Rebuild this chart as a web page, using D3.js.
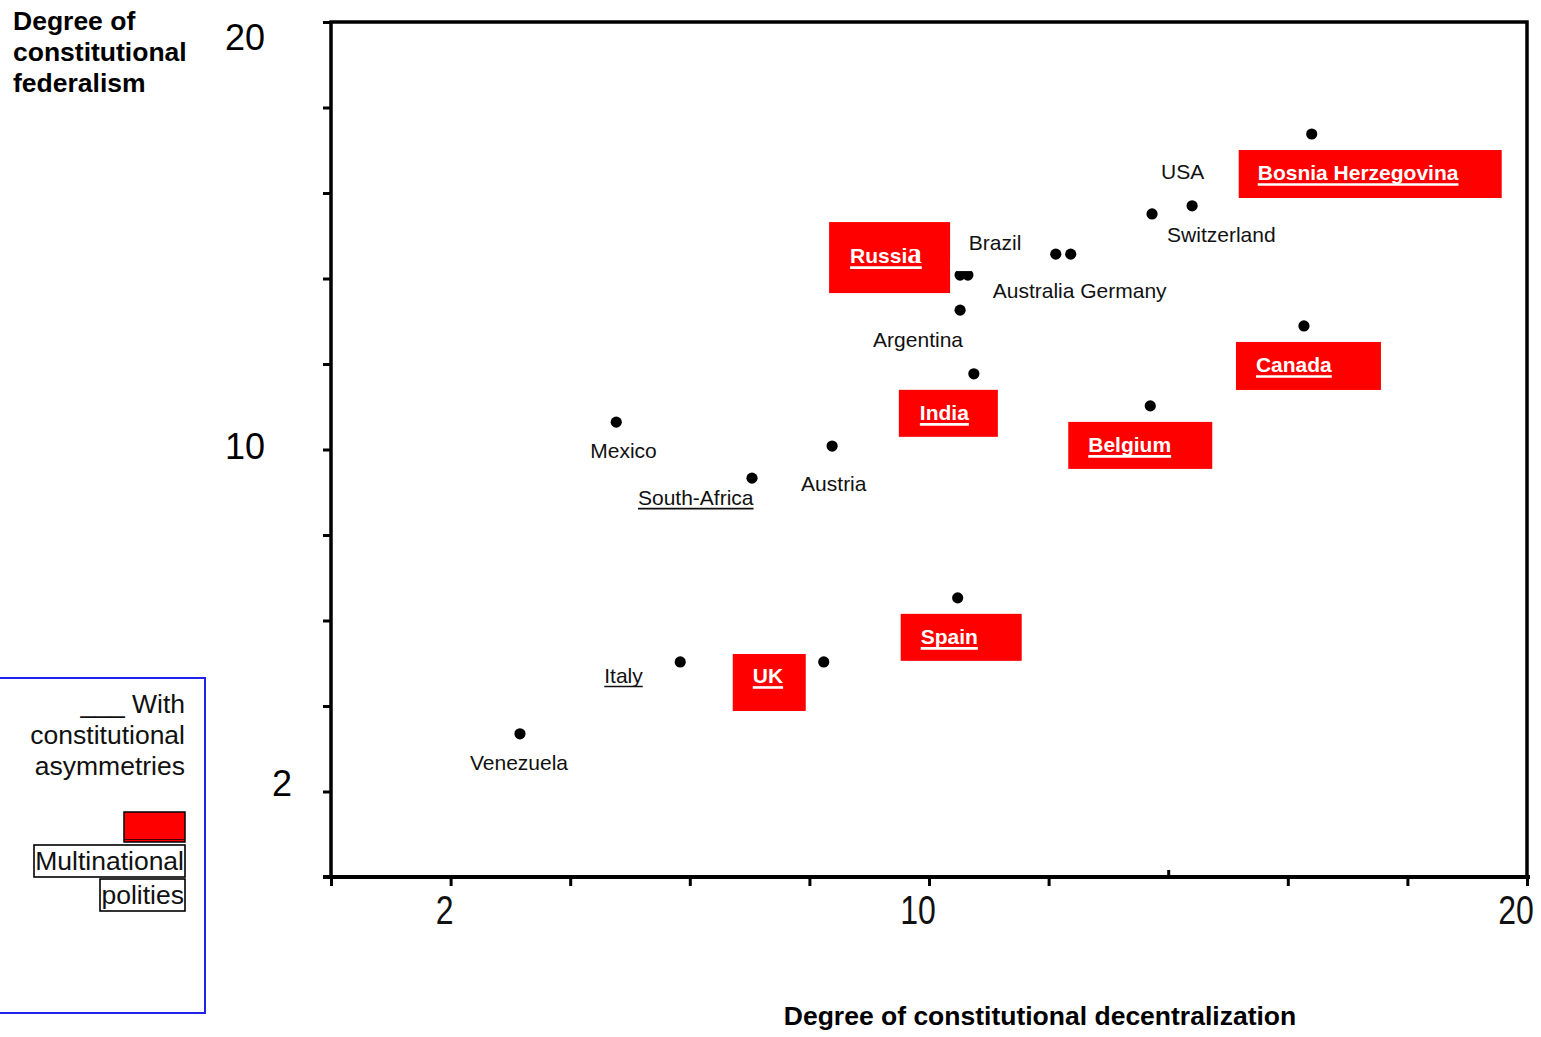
<!DOCTYPE html>
<html>
<head>
<meta charset="utf-8">
<script src="https://cdn.jsdelivr.net/npm/d3@7"></script>
<style>
  html, body { margin: 0; padding: 0; background: #fff; }
  svg { display: block; font-family: "Liberation Sans", Arial, sans-serif; }
</style>
</head>
<body>
<svg id="chart" width="1541" height="1037"></svg>
<script>
// ---------- data ----------
const countries = ["Mexico", "South-Africa", "Austria", "Venezuela", "Italy", "UK", "Spain", "India",
  "Argentina", "Russia", "Brazil", "Australia", "Germany", "USA", "Switzerland",
  "Bosnia Herzegovina", "Canada", "Belgium"];
const decentralization = [4.77, 7.04, 8.38, 3.16, 5.84, 8.24, 10.48, 10.75,
  10.52, 10.52, 10.65, 12.12, 12.37, 13.73, 14.40, 16.40, 16.27, 13.70];
const federalism = [10.64, 9.33, 10.08, 3.35, 5.03, 5.03, 6.53, 11.77,
  13.26, 14.08, 14.08, 14.57, 14.57, 15.51, 15.70, 17.38, 12.89, 11.02];
const multinational = [false, false, false, false, false, true, true, true,
  false, true, false, false, false, false, false, true, true, true];
const underlined = [false, true, false, false, true, true, true, true,
  false, true, false, false, false, false, false, true, true, true];

const xTickValues = [0, 2, 4, 6, 8, 10, 12, 14, 16, 18, 20];
const yTickValues = [0, 2, 4, 6, 8, 10, 12, 14, 16, 18, 20];
const xTickLabels = [{ v: 2, t: "2" }, { v: 10, t: "10" }, { v: 20, t: "20" }];
const yTickLabels = [{ v: 20, t: "20" }, { v: 10, t: "10" }, { v: 2, t: "2" }];

const yTitle = ["Degree of", "constitutional", "federalism"];
const xTitle = "Degree of constitutional decentralization";
const legendText = ["___ With", "constitutional", "asymmetries"];
const legendBoxText = ["Multinational", "polities"];

// ---------- layout (offsets from each point, px) ----------
const labelLayout = {
  "Mexico": { dx: -26, dy: 36 },
  "South-Africa": { dx: -114, dy: 27 },
  "Austria": { dx: -31, dy: 45 },
  "Venezuela": { dx: -50, dy: 36 },
  "Italy": { dx: -76, dy: 21 },
  "Argentina": { dx: -87, dy: 37 },
  "Brazil": { dx: 1, dy: -25 },
  "Australia": { dx: -63, dy: 44 },
  "Germany": { dx: 9.5, dy: 44 },
  "USA": { dx: 9, dy: -35 },
  "Switzerland": { dx: -25, dy: 36 }
};
const boxLayout = {
  "Bosnia Herzegovina": { bx: -73, by: 16, bw: 263, bh: 48, tx: -54, ty: 46 },
  "Canada": { bx: -68, by: 16, bw: 145, bh: 48, tx: -48, ty: 46 },
  "Belgium": { bx: -82, by: 16, bw: 144, bh: 47, tx: -62, ty: 46 },
  "India": { bx: -75, by: 16, bw: 99, bh: 47, tx: -54, ty: 46 },
  "Spain": { bx: -57, by: 16, bw: 121, bh: 47, tx: -37, ty: 46 },
  "UK": { bx: -91, by: -8, bw: 73, bh: 57, tx: -71, ty: 21 },
  "Russia": { bx: -131, by: -53, bw: 121, bh: 71, tx: -110, ty: -12 }
};

// ---------- chart ----------
const svg = d3.select("#chart");
const x = d3.scaleLinear().domain([0, 20]).range([331, 1527]);
const y = d3.scaleLinear().domain([0, 20]).range([877, 22]);

const pts = countries.map((c, i) => ({
  name: c, x: decentralization[i], y: federalism[i], multi: multinational[i], ul: underlined[i]
}));

// frame
svg.append("rect")
  .attr("x", x(0)).attr("y", y(20))
  .attr("width", x(20) - x(0)).attr("height", y(0) - y(20))
  .attr("fill", "none").attr("stroke", "#000").attr("stroke-width", 3.5);

// y axis ticks
const yAxis = d3.axisLeft(y).tickValues(yTickValues).tickSize(8).tickSizeOuter(0).tickFormat("");
const gy = svg.append("g").attr("transform", `translate(${x(0)},0)`).call(yAxis);
gy.select(".domain").remove();
gy.selectAll(".tick line").attr("stroke", "#000").attr("stroke-width", 3);

// x axis ticks (one tick drawn upward)
const xAxis = d3.axisBottom(x).tickValues(xTickValues.filter(v => v !== 14)).tickSize(9).tickSizeOuter(0).tickFormat("");
const gx = svg.append("g").attr("transform", `translate(0,${y(0)})`).call(xAxis);
gx.select(".domain").remove();
gx.selectAll(".tick line").attr("stroke", "#000").attr("stroke-width", 3);
const xAxisUp = d3.axisTop(x).tickValues([14]).tickSize(7).tickSizeOuter(0).tickFormat("");
const gx2 = svg.append("g").attr("transform", `translate(0,${y(0)})`).call(xAxisUp);
gx2.select(".domain").remove();
gx2.selectAll(".tick line").attr("stroke", "#000").attr("stroke-width", 3);
// extended bottom line
svg.append("line").attr("x1", x(0) - 8).attr("x2", x(20) + 3)
  .attr("y1", y(0)).attr("y2", y(0)).attr("stroke", "#000").attr("stroke-width", 4);

// y tick labels
const yLabOff = { "20": { dx: -66, dy: 28 }, "10": { dx: -66, dy: 9 }, "2": { dx: -39, dy: 4 } };
svg.selectAll(".ylab").data(yTickLabels).join("text")
  .attr("class", "ylab")
  .attr("x", d => x(0) + yLabOff[d.t].dx)
  .attr("y", d => y(d.v) + yLabOff[d.t].dy)
  .attr("text-anchor", "end")
  .attr("font-size", 36).attr("fill", "#000")
  .text(d => d.t);

// x tick labels (condensed)
const xLabOff = { "2": -6, "10": -11, "20": -11 };
svg.selectAll(".xlab").data(xTickLabels).join("text")
  .attr("class", "xlab")
  .attr("transform", d => `translate(${x(d.v) + xLabOff[d.t]},924) scale(0.8,1)`)
  .attr("text-anchor", "middle")
  .attr("font-size", 40).attr("fill", "#111")
  .text(d => d.t);

// titles
svg.append("text").attr("x", 13).attr("font-size", 26.5).attr("font-weight", "bold")
  .selectAll("tspan").data(yTitle).join("tspan")
  .attr("x", 13).attr("y", (d, i) => 30 + i * 31).text(d => d);
svg.append("text").attr("x", 1040).attr("y", 1025).attr("text-anchor", "middle")
  .attr("font-size", 26.5).attr("font-weight", "bold").text(xTitle);

// red boxes
const multiPts = pts.filter(p => p.multi);
svg.selectAll(".box").data(multiPts).join("rect")
  .attr("class", "box")
  .attr("x", p => x(p.x) + boxLayout[p.name].bx)
  .attr("y", p => y(p.y) + boxLayout[p.name].by)
  .attr("width", p => boxLayout[p.name].bw)
  .attr("height", p => boxLayout[p.name].bh)
  .attr("fill", "#ff0000");

// points
svg.selectAll(".pt").data(pts).join("circle")
  .attr("class", "pt")
  .attr("cx", p => x(p.x)).attr("cy", p => y(p.y)).attr("r", 5.6)
  .attr("fill", "#000");

// white patch that clips the Russia / Brazil dots
const russia = pts.find(p => p.name === "Russia");
svg.append("rect")
  .attr("x", x(russia.x) - 10).attr("y", y(russia.y) - 16)
  .attr("width", 28).attr("height", 12).attr("fill", "#fff");

// plain labels
const plainPts = pts.filter(p => !p.multi);
plainPts.forEach(p => {
  const L = labelLayout[p.name];
  const t = svg.append("text")
    .attr("x", x(p.x) + L.dx).attr("y", y(p.y) + L.dy)
    .attr("font-size", 21).attr("fill", "#111").text(p.name);
  if (p.ul) {
    const w = t.node().getComputedTextLength();
    svg.append("line").attr("x1", x(p.x) + L.dx).attr("x2", x(p.x) + L.dx + w)
      .attr("y1", y(p.y) + L.dy + 3.5).attr("y2", y(p.y) + L.dy + 3.5)
      .attr("stroke", "#111").attr("stroke-width", 1.6);
  }
});

// box labels
multiPts.forEach(p => {
  const B = boxLayout[p.name];
  const tx = x(p.x) + B.tx, ty = y(p.y) + B.ty;
  const t = svg.append("text").attr("x", tx).attr("y", ty)
    .attr("font-size", 21).attr("font-weight", "bold").attr("fill", "#fff");
  if (p.name === "Russia") {
    t.append("tspan").text("Russi");
    t.append("tspan").attr("font-family", "'Liberation Serif', serif").attr("font-size", 29)
      .attr("font-weight", "bold").text("a");
  } else {
    t.text(p.name);
  }
  const w = t.node().getComputedTextLength();
  svg.append("line").attr("x1", tx).attr("x2", tx + w)
    .attr("y1", ty + 4.5).attr("y2", ty + 4.5)
    .attr("stroke", "#fff").attr("stroke-width", 2.6);
});

// legend
svg.append("rect").attr("x", -1).attr("y", 678).attr("width", 206).attr("height", 335)
  .attr("fill", "none").attr("stroke", "#2222ee").attr("stroke-width", 2);
svg.append("text").attr("text-anchor", "end").attr("font-size", 26.5).attr("fill", "#111")
  .selectAll("tspan").data(legendText).join("tspan")
  .attr("x", 185).attr("y", (d, i) => 713 + i * 31).text(d => d);
svg.append("rect").attr("x", 124).attr("y", 812).attr("width", 61).attr("height", 30)
  .attr("fill", "#ff0000").attr("stroke", "#000").attr("stroke-width", 1.5);
svg.append("line").attr("x1", 124).attr("x2", 185).attr("y1", 839.5).attr("y2", 839.5)
  .attr("stroke", "#400").attr("stroke-width", 1.2);
const lbBoxes = [{ x: 34, y: 845, w: 151, h: 32 }, { x: 100, y: 879, w: 85, h: 32 }];
legendBoxText.forEach((s, i) => {
  const b = lbBoxes[i];
  svg.append("rect").attr("x", b.x).attr("y", b.y).attr("width", b.w).attr("height", b.h)
    .attr("fill", "#fff").attr("stroke", "#000").attr("stroke-width", 1.6);
  svg.append("text").attr("x", 184).attr("y", b.y + 25).attr("text-anchor", "end")
    .attr("font-size", 26.5).attr("fill", "#111").text(s);
});
</script>
</body>
</html>
